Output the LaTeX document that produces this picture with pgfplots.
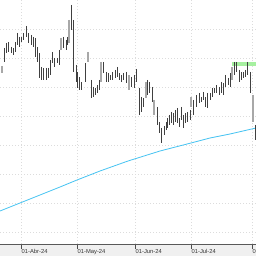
\documentclass[border=0pt]{standalone}
\usepackage{pgfplots}
\pgfplotsset{compat=1.18}
\usepackage{fontspec}
\setmainfont{Liberation Sans}
\definecolor{bardark}{HTML}{404040}
\definecolor{barlight}{HTML}{A8A8A8}
\definecolor{maline}{HTML}{45C3F2}
\definecolor{resist}{HTML}{A6F0A0}
\definecolor{gridc}{HTML}{DCDCDC}
\begin{document}
\begin{tikzpicture}[x=1pt,y=1pt]
\useasboundingbox (0,0) rectangle (256,256);
\clip (0,0) rectangle (256,256);
\fill[white] (0,12) rectangle (256,256);
\fill[black!6] (0,0) rectangle (256,12);
\begin{axis}[
  at={(0,12)}, anchor=south west,
  scale only axis, width=256pt, height=244pt,
  xmin=0, xmax=256, ymin=-244, ymax=0,
  axis line style={draw=none},
  unbounded coords=jump,
  xtick={21,77,135,191,252},
  xticklabels={01-Abr-24,01-May-24,01-Jun-24,01-Jul-24,01-Ago-24},
  xtick pos=lower, tick align=outside, major tick length=5.5pt,
  x tick style={black!70, line width=0.5pt},
  ytick={-232,-203,-174,-145,-116,-87,-58,-29},
  yticklabels={}, y tick style={draw=none},
  grid=major,
  grid style={gridc, line width=0.5pt, dash pattern=on 1.2pt off 1.8pt},
  xticklabel style={anchor=north west, inner sep=0pt, xshift=0.5pt, text=black!80,
    font=\fontsize{5.8}{6}\selectfont},
  clip=false,
]
\draw[black!65, line width=0.6pt] (axis cs:0,-244) -- (axis cs:256,-244);
% resistance line
\addplot[resist, line width=3.5pt] coordinates {(232,-64) (256,-64)};
% moving average
\addplot[maline, line width=0.8pt] coordinates {
(0,-211) (20,-203) (40,-195) (60,-187) (77,-180) (100,-171) (128,-161)
(160,-151) (191,-143) (210,-138) (230,-134) (256,-128)};
% light (up) bars
\addplot[barlight, line width=1.4pt] coordinates {
(2,-66) (2,-73) (2,nan)
(61,-38) (61,-50) (61,nan)
(69,-20) (69,-43) (69,nan)
(88,-52) (88,-62) (88,nan)
(101,-62) (101,-82) (101,nan)
(129,-75) (129,-90) (129,nan)
(146,-82) (146,-98) (146,nan)
(154,-100) (154,-115) (154,nan)
(191,-97) (191,-107) (191,nan)
(232,-67) (232,-80) (232,nan)
(253,-95) (253,-122) (253,nan)
};
% dark bars
\addplot[bardark, line width=0.7pt] coordinates {
(4,-48) (4,-62) (4,nan)
(6,-43) (6,-53) (6,nan)
(8,-42) (8,-52) (8,nan)
(11,-47) (11,-53) (11,nan)
(13,-48) (13,-55) (13,nan)
(15,-42) (15,-52) (15,nan)
(17,-33) (17,-45) (17,nan)
(19,-37) (19,-47) (19,nan)
(21,-37) (21,-42) (21,nan)
(23,-33) (23,-40) (23,nan)
(26,-26) (26,-37) (26,nan)
(28,-33) (28,-43) (28,nan)
(31,-35) (31,-45) (31,nan)
(33,-37) (33,-47) (33,nan)
(35,-38) (35,-57) (35,nan)
(37,-47) (37,-62) (37,nan)
(39,-53) (39,-78) (39,nan)
(41,-67) (41,-80) (41,nan)
(43,-68) (43,-80) (43,nan)
(46,-68) (46,-80) (46,nan)
(48,-68) (48,-78) (48,nan)
(50,-60) (50,-75) (50,nan)
(52,-52) (52,-63) (52,nan)
(54,-58) (54,-67) (54,nan)
(57,-58) (57,-63) (57,nan)
(59,-50) (59,-65) (59,nan)
(63,-37) (63,-48) (63,nan)
(66,-40) (66,-50) (66,nan)
(67,-37) (67,-45) (67,nan)
(71,-5) (71,-30) (71,nan)
(73,-20) (73,-72) (73,nan)
(76,-65) (76,-82) (76,nan)
(77,-72) (77,-88) (77,nan)
(79,-77) (79,-90) (79,nan)
(81,-82) (81,-90) (81,nan)
(85,-63) (85,-82) (85,nan)
(91,-80) (91,-98) (91,nan)
(93,-87) (93,-97) (93,nan)
(95,-88) (95,-95) (95,nan)
(97,-85) (97,-93) (97,nan)
(99,-80) (99,-90) (99,nan)
(103,-62) (103,-73) (103,nan)
(106,-72) (106,-82) (106,nan)
(108,-73) (108,-82) (108,nan)
(110,-75) (110,-80) (110,nan)
(112,-72) (112,-80) (112,nan)
(115,-70) (115,-78) (115,nan)
(117,-67) (117,-77) (117,nan)
(119,-73) (119,-80) (119,nan)
(121,-75) (121,-82) (121,nan)
(123,-73) (123,-80) (123,nan)
(126,-72) (126,-83) (126,nan)
(131,-77) (131,-87) (131,nan)
(134,-75) (134,-88) (134,nan)
(136,-69) (136,-82) (136,nan)
(139,-88) (139,-115) (139,nan)
(141,-97) (141,-112) (141,nan)
(143,-98) (143,-107) (143,nan)
(147,-80) (147,-95) (147,nan)
(149,-82) (149,-93) (149,nan)
(152,-87) (152,-102) (152,nan)
(157,-107) (157,-125) (157,nan)
(159,-122) (159,-133) (159,nan)
(161,-128) (161,-143) (161,nan)
(164,-126) (164,-135) (164,nan)
(166,-122) (166,-130) (166,nan)
(167,-118) (167,-128) (167,nan)
(169,-115) (169,-125) (169,nan)
(171,-112) (171,-123) (171,nan)
(173,-113) (173,-125) (173,nan)
(175,-110) (175,-122) (175,nan)
(177,-108) (177,-123) (177,nan)
(179,-118) (179,-127) (179,nan)
(181,-107) (181,-120) (181,nan)
(183,-115) (183,-128) (183,nan)
(185,-113) (185,-123) (185,nan)
(187,-112) (187,-122) (187,nan)
(190,-110) (190,-120) (190,nan)
(193,-100) (193,-115) (193,nan)
(196,-95) (196,-107) (196,nan)
(199,-93) (199,-103) (199,nan)
(201,-97) (201,-102) (201,nan)
(203,-92) (203,-100) (203,nan)
(205,-97) (205,-107) (205,nan)
(207,-93) (207,-108) (207,nan)
(210,-93) (210,-100) (210,nan)
(212,-88) (212,-97) (212,nan)
(214,-88) (214,-93) (214,nan)
(216,-85) (216,-93) (216,nan)
(219,-87) (219,-95) (219,nan)
(221,-82) (221,-93) (221,nan)
(223,-83) (223,-95) (223,nan)
(225,-75) (225,-87) (225,nan)
(228,-78) (228,-85) (228,nan)
(230,-73) (230,-87) (230,nan)
(234,-62) (234,-75) (234,nan)
(236,-62) (236,-72) (236,nan)
(239,-70) (239,-82) (239,nan)
(241,-72) (241,-80) (241,nan)
(243,-72) (243,-78) (243,nan)
(245,-70) (245,-77) (245,nan)
(247,-62) (247,-75) (247,nan)
(250,-72) (250,-93) (250,nan)
(255,-125) (255,-140) (255,nan)
};
\end{axis}
\end{tikzpicture}
\end{document}
